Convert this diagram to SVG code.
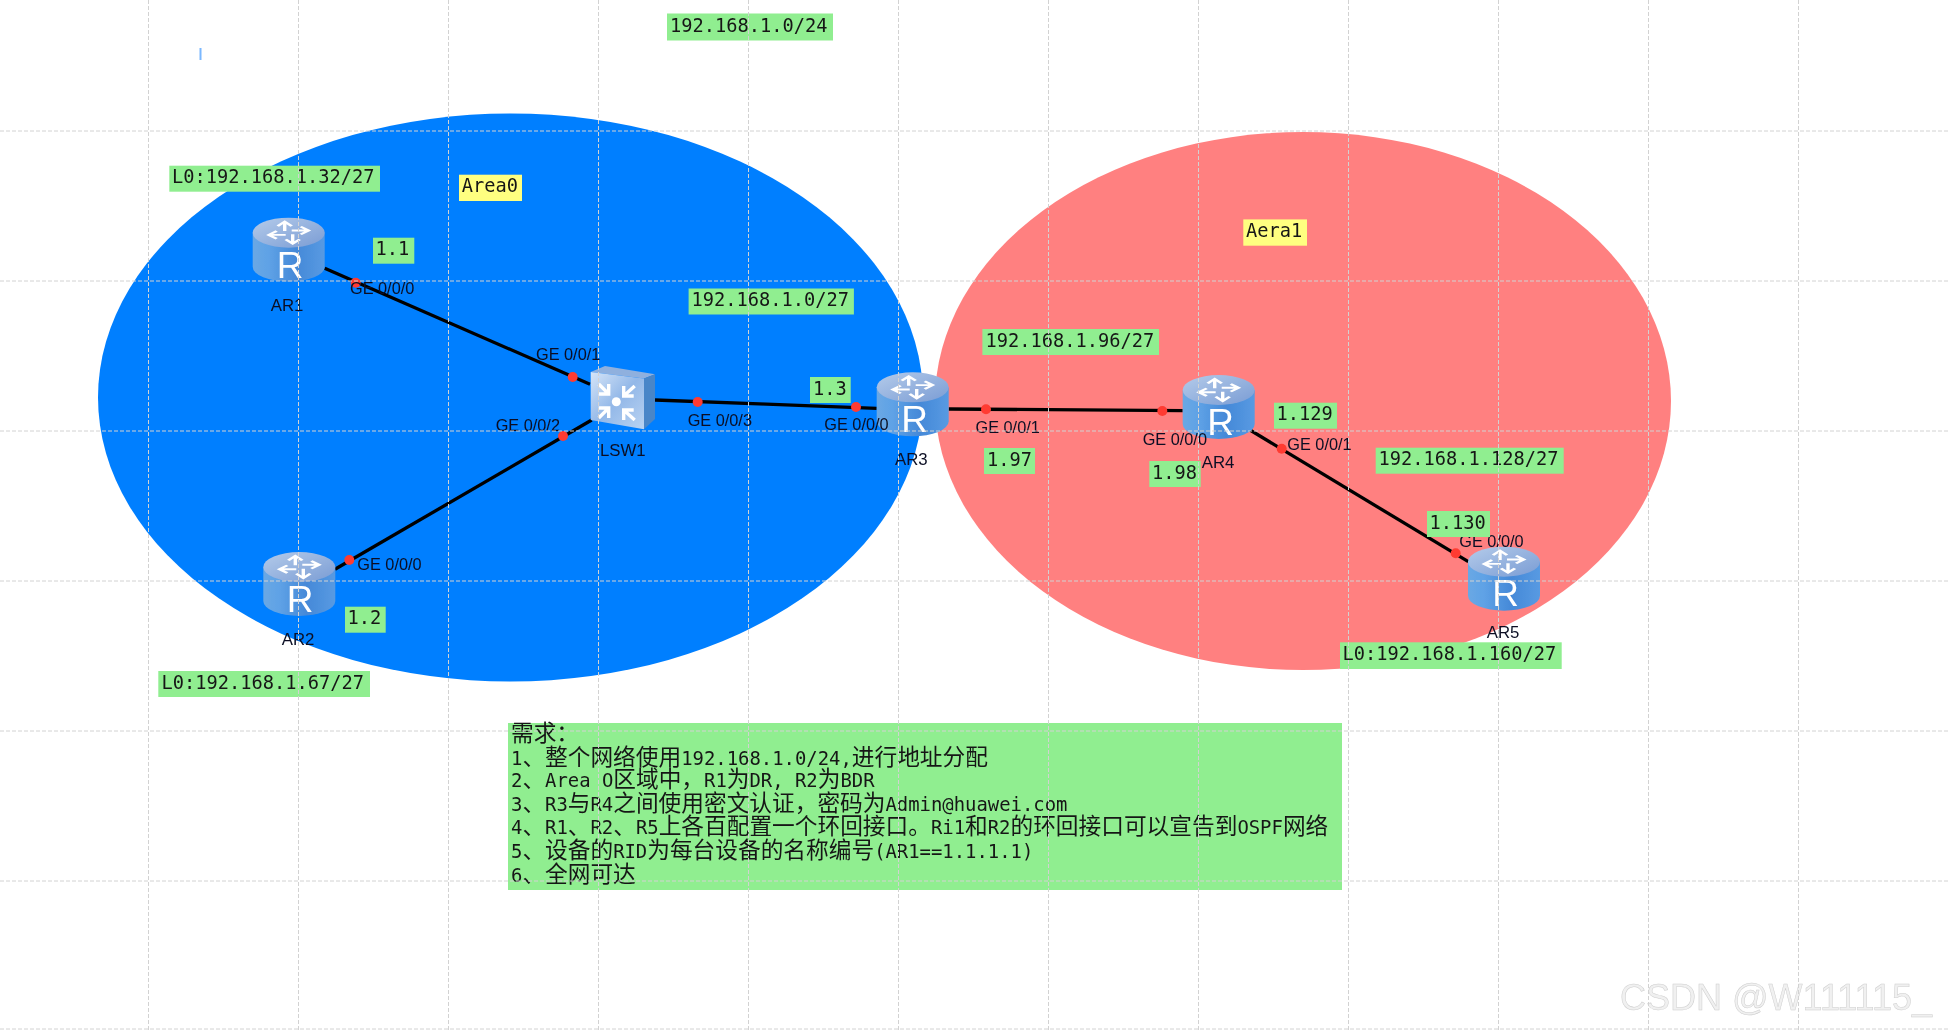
<svg xmlns="http://www.w3.org/2000/svg" width="1948" height="1030" viewBox="0 0 1948 1030">
<style>
.lbl{fill:#90ee90}.yel{fill:#ffff80}
.m{font-family:"DejaVu Sans Mono","Liberation Mono",monospace;font-size:18.7px;fill:#161616}
.t{font-family:"Liberation Sans",Arial,sans-serif;font-size:16.3px;fill:#0a1024}
.n{font-family:"Liberation Sans",Arial,sans-serif;font-size:16.8px;fill:#0a1024}
.r{font-family:"Liberation Sans",Arial,sans-serif;font-size:37px;fill:#fff;text-anchor:middle}
.link{stroke:#000;stroke-width:3.3;fill:none}
.dot{fill:#ff3b30}
.grid{stroke:#d2d2d2;stroke-width:1;stroke-dasharray:4 2;fill:none}
.req{font-family:"DejaVu Sans Mono","Noto Sans CJK SC",monospace;font-size:18.9px;fill:#161616}
.c{font-family:"Noto Sans CJK SC",sans-serif;font-size:22.7px}
.wm{font-family:"Liberation Sans",Arial,sans-serif;font-size:36px;fill:#f0f0f0;stroke:#cfcfcf;stroke-width:.5}
</style>
<defs>
<filter id="soft" x="-2%" y="-2%" width="104%" height="104%"><feGaussianBlur stdDeviation="0.45"/></filter>
<linearGradient id="body" x1="0" x2="1" y1="0" y2="0"><stop offset="0" stop-color="#6aa8e4"/><stop offset=".22" stop-color="#5fa2e6"/><stop offset=".6" stop-color="#4589d8"/><stop offset="1" stop-color="#589ae2"/></linearGradient>
<linearGradient id="top" x1="0" x2="1" y1="0" y2="1"><stop offset="0" stop-color="#b4cbea"/><stop offset="1" stop-color="#7a9cd4"/></linearGradient>
<linearGradient id="face" x1="0" x2="1" y1="0" y2="1"><stop offset="0" stop-color="#d6e5f8"/><stop offset=".5" stop-color="#93b8e8"/><stop offset="1" stop-color="#b9d3f2"/></linearGradient>
<g id="router">
<path d="M0 15V49A36 15 0 0 0 72 49V15Z" fill="url(#body)"/>
<ellipse cx="36" cy="15" rx="36" ry="15" fill="url(#top)"/>
<g transform="translate(36,15) scale(1,.55)" fill="none" stroke="#fff" stroke-width="3.4">
<path d="M3 -4H18M12 -11L20 -4L12 3"/>
<path d="M3 -4H18M12 -11L20 -4L12 3" transform="rotate(90)"/>
<path d="M3 -4H18M12 -11L20 -4L12 3" transform="rotate(180)"/>
<path d="M3 -4H18M12 -11L20 -4L12 3" transform="rotate(270)"/>
</g>
</g>
<g id="switch">
<path d="M0 6L14.300 0L64.300 8.300L53.300 12.500Z" fill="#8fb0de"/>
<path d="M53.300 12.500L64.300 8.300V53L53.300 63.300Z" fill="#4a86c8"/>
<path d="M0 6L53.300 12.500V63.300L0 54Z" fill="url(#face)"/>
<circle cx="25.600" cy="35.700" r="4.500" fill="#fff"/>
<g fill="none" stroke="#fff" stroke-width="3.4">
<path d="M8 18L18 28M18 18V28H8"/>
<path d="M44 20L33 30M33 20V30H43"/>
<path d="M8 52L18 42M8 42H18V52"/>
<path d="M44 54L33 44M43 44H33V54"/>
</g>
</g>
</defs>

<g id="zones">
<ellipse id="area0" cx="510.500" cy="397.500" rx="412.500" ry="284" fill="#007fff"/>
<ellipse id="area1" cx="1303" cy="401" rx="368" ry="269" fill="#ff8080"/>
<rect id="mark" x="199.500" y="48" width="2" height="12" fill="#7bb8ff"/>
</g>

<g id="connectors" filter="url(#soft)">
<path class="link" d="M324.700 268.300L590 384.300"/>
<path class="link" d="M591.700 420L335 569.300"/>
<path class="link" d="M655 400L876.700 408.300"/>
<path class="link" d="M948.700 409L1182.700 410.700"/>
<path class="link" d="M1250 430L1468.300 561.700"/>
<g class="dot">
<circle cx="355.700" cy="282.700" r="5"/><circle cx="572.700" cy="377" r="5"/>
<circle cx="563" cy="436" r="5"/><circle cx="349.300" cy="560" r="5"/>
<circle cx="697.700" cy="402" r="5"/><circle cx="856" cy="407" r="5"/>
<circle cx="986" cy="409.300" r="5"/><circle cx="1162.300" cy="411" r="5"/>
<circle cx="1281.700" cy="448.700" r="5"/><circle cx="1455.700" cy="553.300" r="5"/>
</g>
</g>

<g id="nodes" filter="url(#soft)">
<g id="AR1"><use href="#router" x="252.700" y="217.700"/><text class="r" x="290" y="278">R</text><text class="n" x="270.700" y="310.700">AR1</text></g>
<g id="AR2"><use href="#router" x="263.300" y="552"/><text class="r" x="300" y="612">R</text><text class="n" x="281.700" y="645">AR2</text></g>
<g id="AR3"><use href="#router" x="876.700" y="372.300"/><text class="r" x="914.500" y="432">R</text><text class="n" x="895" y="465">AR3</text></g>
<g id="AR4"><use href="#router" x="1182.700" y="375"/><text class="r" x="1220.500" y="435">R</text><text class="n" x="1201.700" y="467.700">AR4</text></g>
<g id="AR5"><use href="#router" x="1468" y="546.700"/><text class="r" x="1505.500" y="606">R</text><text class="n" x="1486.700" y="638.300">AR5</text></g>
<g id="LSW1"><use href="#switch" x="590.700" y="366"/><text class="n" x="600" y="456">LSW1</text></g>
</g>

<g id="port-labels" filter="url(#soft)">
<text class="t" x="350" y="293.800">GE 0/0/0</text>
<text class="t" x="536" y="360">GE 0/0/1</text>
<text class="t" x="495.700" y="430.700">GE 0/0/2</text>
<text class="t" x="357.300" y="570">GE 0/0/0</text>
<text class="t" x="687.700" y="425.700">GE 0/0/3</text>
<text class="t" x="824.300" y="430">GE 0/0/0</text>
<text class="t" x="975.500" y="433">GE 0/0/1</text>
<text class="t" x="1142.700" y="445">GE 0/0/0</text>
<text class="t" x="1287.300" y="450">GE 0/0/1</text>
<text class="t" x="1459.300" y="547.300">GE 0/0/0</text>
</g>

<g id="address-labels" filter="url(#soft)">
<g><rect class="lbl" x="667" y="13.500" width="166" height="27"/><text class="m" x="670" y="31.500">192.168.1.0/24</text></g>
<g><rect class="lbl" x="169.300" y="165.700" width="210.700" height="26"/><text class="m" x="172" y="183">L0:192.168.1.32/27</text></g>
<g><rect class="yel" x="459" y="174.700" width="63" height="26.300"/><text class="m" x="461.700" y="192">Area0</text></g>
<g><rect class="lbl" x="373" y="237.700" width="41.300" height="26"/><text class="m" x="375.500" y="255">1.1</text></g>
<g><rect class="lbl" x="688.600" y="288.500" width="165.300" height="26"/><text class="m" x="691.500" y="306">192.168.1.0/27</text></g>
<g><rect class="lbl" x="810" y="377" width="40.700" height="26"/><text class="m" x="813" y="394.500">1.3</text></g>
<g><rect class="lbl" x="345" y="606.700" width="40.700" height="26"/><text class="m" x="347.500" y="624">1.2</text></g>
<g><rect class="lbl" x="158.300" y="671" width="211.700" height="26"/><text class="m" x="161.500" y="688.500">L0:192.168.1.67/27</text></g>
<g><rect class="lbl" x="982.400" y="329" width="176.600" height="26"/><text class="m" x="985.500" y="346.500">192.168.1.96/27</text></g>
<g><rect class="lbl" x="984" y="448" width="51" height="26"/><text class="m" x="987" y="465.500">1.97</text></g>
<g><rect class="lbl" x="1149.300" y="461" width="51.400" height="26"/><text class="m" x="1152" y="478.500">1.98</text></g>
<g><rect class="lbl" x="1274" y="402.700" width="63" height="26"/><text class="m" x="1276.500" y="420">1.129</text></g>
<g><rect class="lbl" x="1375.700" y="447.700" width="188" height="26"/><text class="m" x="1378.500" y="465">192.168.1.128/27</text></g>
<g><rect class="lbl" x="1427" y="511" width="63" height="26"/><text class="m" x="1429.500" y="528.500">1.130</text></g>
<g><rect class="lbl" x="1340" y="642.300" width="221.700" height="26.700"/><text class="m" x="1342.500" y="660">L0:192.168.1.160/27</text></g>
<g><rect class="yel" x="1243.300" y="219.400" width="63.700" height="26.300"/><text class="m" x="1246" y="237">Aera1</text></g>
</g>

<g id="requirements" filter="url(#soft)">
<rect class="lbl" x="508" y="723" width="834" height="167"/>
<text class="req" x="511" y="741"><tspan class="c">需求：</tspan></text>
<text class="req" x="511" y="765">1<tspan class="c">、整个网络使用</tspan>192.168.1.0/24,<tspan class="c">进行地址分配</tspan></text>
<text class="req" x="511" y="787">2<tspan class="c">、</tspan>Area O<tspan class="c">区域中，</tspan>R1<tspan class="c">为</tspan>DR, R2<tspan class="c">为</tspan>BDR</text>
<text class="req" x="511" y="811">3<tspan class="c">、</tspan>R3<tspan class="c">与</tspan>R4<tspan class="c">之间使用密文认证，密码为</tspan>Admin@huawei.com</text>
<text class="req" x="511" y="834">4<tspan class="c">、</tspan>R1<tspan class="c">、</tspan>R2<tspan class="c">、</tspan>R5<tspan class="c">上各百配置一个环回接口。</tspan>Ri1<tspan class="c">和</tspan>R2<tspan class="c">的环回接口可以宣告到</tspan>OSPF<tspan class="c">网络</tspan></text>
<text class="req" x="511" y="858">5<tspan class="c">、设备的</tspan>RID<tspan class="c">为每台设备的名称编号</tspan>(AR1==1.1.1.1)</text>
<text class="req" x="511" y="881.500">6<tspan class="c">、全网可达</tspan></text>
</g>

<text id="watermark" class="wm" x="1620" y="1010">CSDN @W111115_</text>

<path id="grid" class="grid" d="M148.500 0V1030M298.500 0V1030M448.500 0V1030M598.500 0V1030M748.500 0V1030M898.500 0V1030M1048.500 0V1030M1198.500 0V1030M1348.500 0V1030M1498.500 0V1030M1648.500 0V1030M1798.500 0V1030M0 131H1948M0 281H1948M0 431H1948M0 581H1948M0 731H1948M0 881H1948M0 1029H1948"/>
</svg>
